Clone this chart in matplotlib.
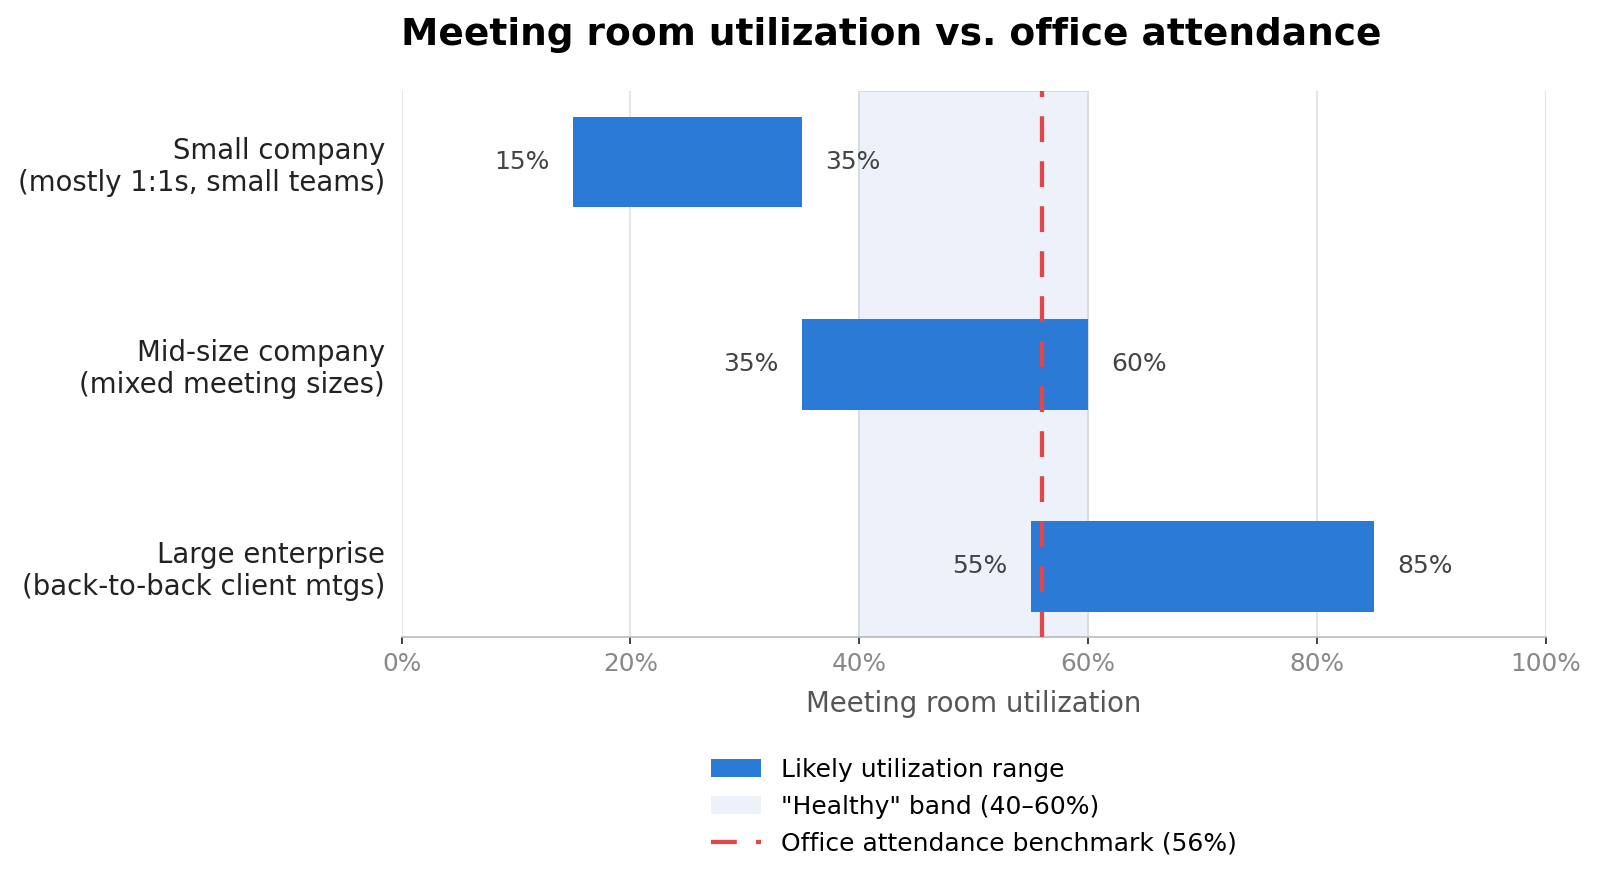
import matplotlib
matplotlib.use("Agg")
import matplotlib.pyplot as plt
from matplotlib.patches import Patch
from matplotlib.lines import Line2D

categories = ["Small company\n(mostly 1:1s, small teams)",
              "Mid-size company\n(mixed meeting sizes)",
              "Large enterprise\n(back-to-back client mtgs)"]
low = [15, 35, 55]
high = [35, 60, 85]
band_low, band_high = 40, 60
benchmark = 56
xticks = [0, 20, 40, 60, 80, 100]

bar_color = "#2b7bd6"
band_color = "#edf2fa"
red = "#e0474c"
dash_style = (0, (6.0, 4.45))

fig = plt.figure(figsize=(16, 8.86), dpi=100)
ax = fig.add_axes([0.251, 0.281, 0.715, 0.616])

ax.axvspan(band_low, band_high, facecolor=band_color, edgecolor="#d6d9de", linewidth=1.2, zorder=0.5)
for x in xticks:
    ax.axvline(x, color="#e2e2e2", linewidth=1.2, zorder=0.4)

ypos = list(range(len(categories)))
widths = [h - l for l, h in zip(low, high)]
ax.barh(ypos, widths, left=low, height=0.45, color=bar_color, zorder=2)
ax.axvline(benchmark, color=red, linewidth=3.1, linestyle=dash_style, zorder=3)

for y, l, h in zip(ypos, low, high):
    ax.annotate(f"{l}%", (l, y), xytext=(-17, 0), textcoords="offset points",
                ha="right", va="center", fontsize=18, color="#444444")
    ax.annotate(f"{h}%", (h, y), xytext=(17, 0), textcoords="offset points",
                ha="left", va="center", fontsize=18, color="#444444")

ax.set_xlim(0, 100)
ax.set_ylim(2.35, -0.35)
ax.set_yticks(ypos)
ax.set_yticklabels(categories, fontsize=19.8, color="#222222", linespacing=1.17)
ax.tick_params(axis="y", length=0, pad=12)
ax.set_xticks(xticks)
ax.set_xticklabels([f"{x}%" for x in xticks], fontsize=17.8, color="#888888")
ax.tick_params(axis="x", length=5, width=1.2, color="#222222", pad=6)
for s in ["top", "right"]:
    ax.spines[s].set_visible(False)
ax.spines["left"].set_visible(False)
ax.spines["bottom"].set_color("#bbbbbb")
ax.spines["bottom"].set_linewidth(1.2)
ax.set_xlabel("Meeting room utilization", fontsize=19.8, color="#555555", labelpad=10)

fig.text(0.557, 0.960, "Meeting room utilization vs. office attendance", fontsize=27,
         fontweight="bold", ha="center", va="center")

handles = [Patch(facecolor=bar_color, label="Likely utilization range"),
           Patch(facecolor=band_color, label='"Healthy" band (40–60%)'),
           Line2D([0], [0], color=red, linewidth=3.1, linestyle=dash_style,
                  label="Office attendance benchmark (56%)")]
fig.legend(handles=handles, loc="upper center", bbox_to_anchor=(0.609, 0.170),
           frameon=False, fontsize=18, handlelength=2.0, labelspacing=0.52)

fig.savefig("out.png", dpi=100)
